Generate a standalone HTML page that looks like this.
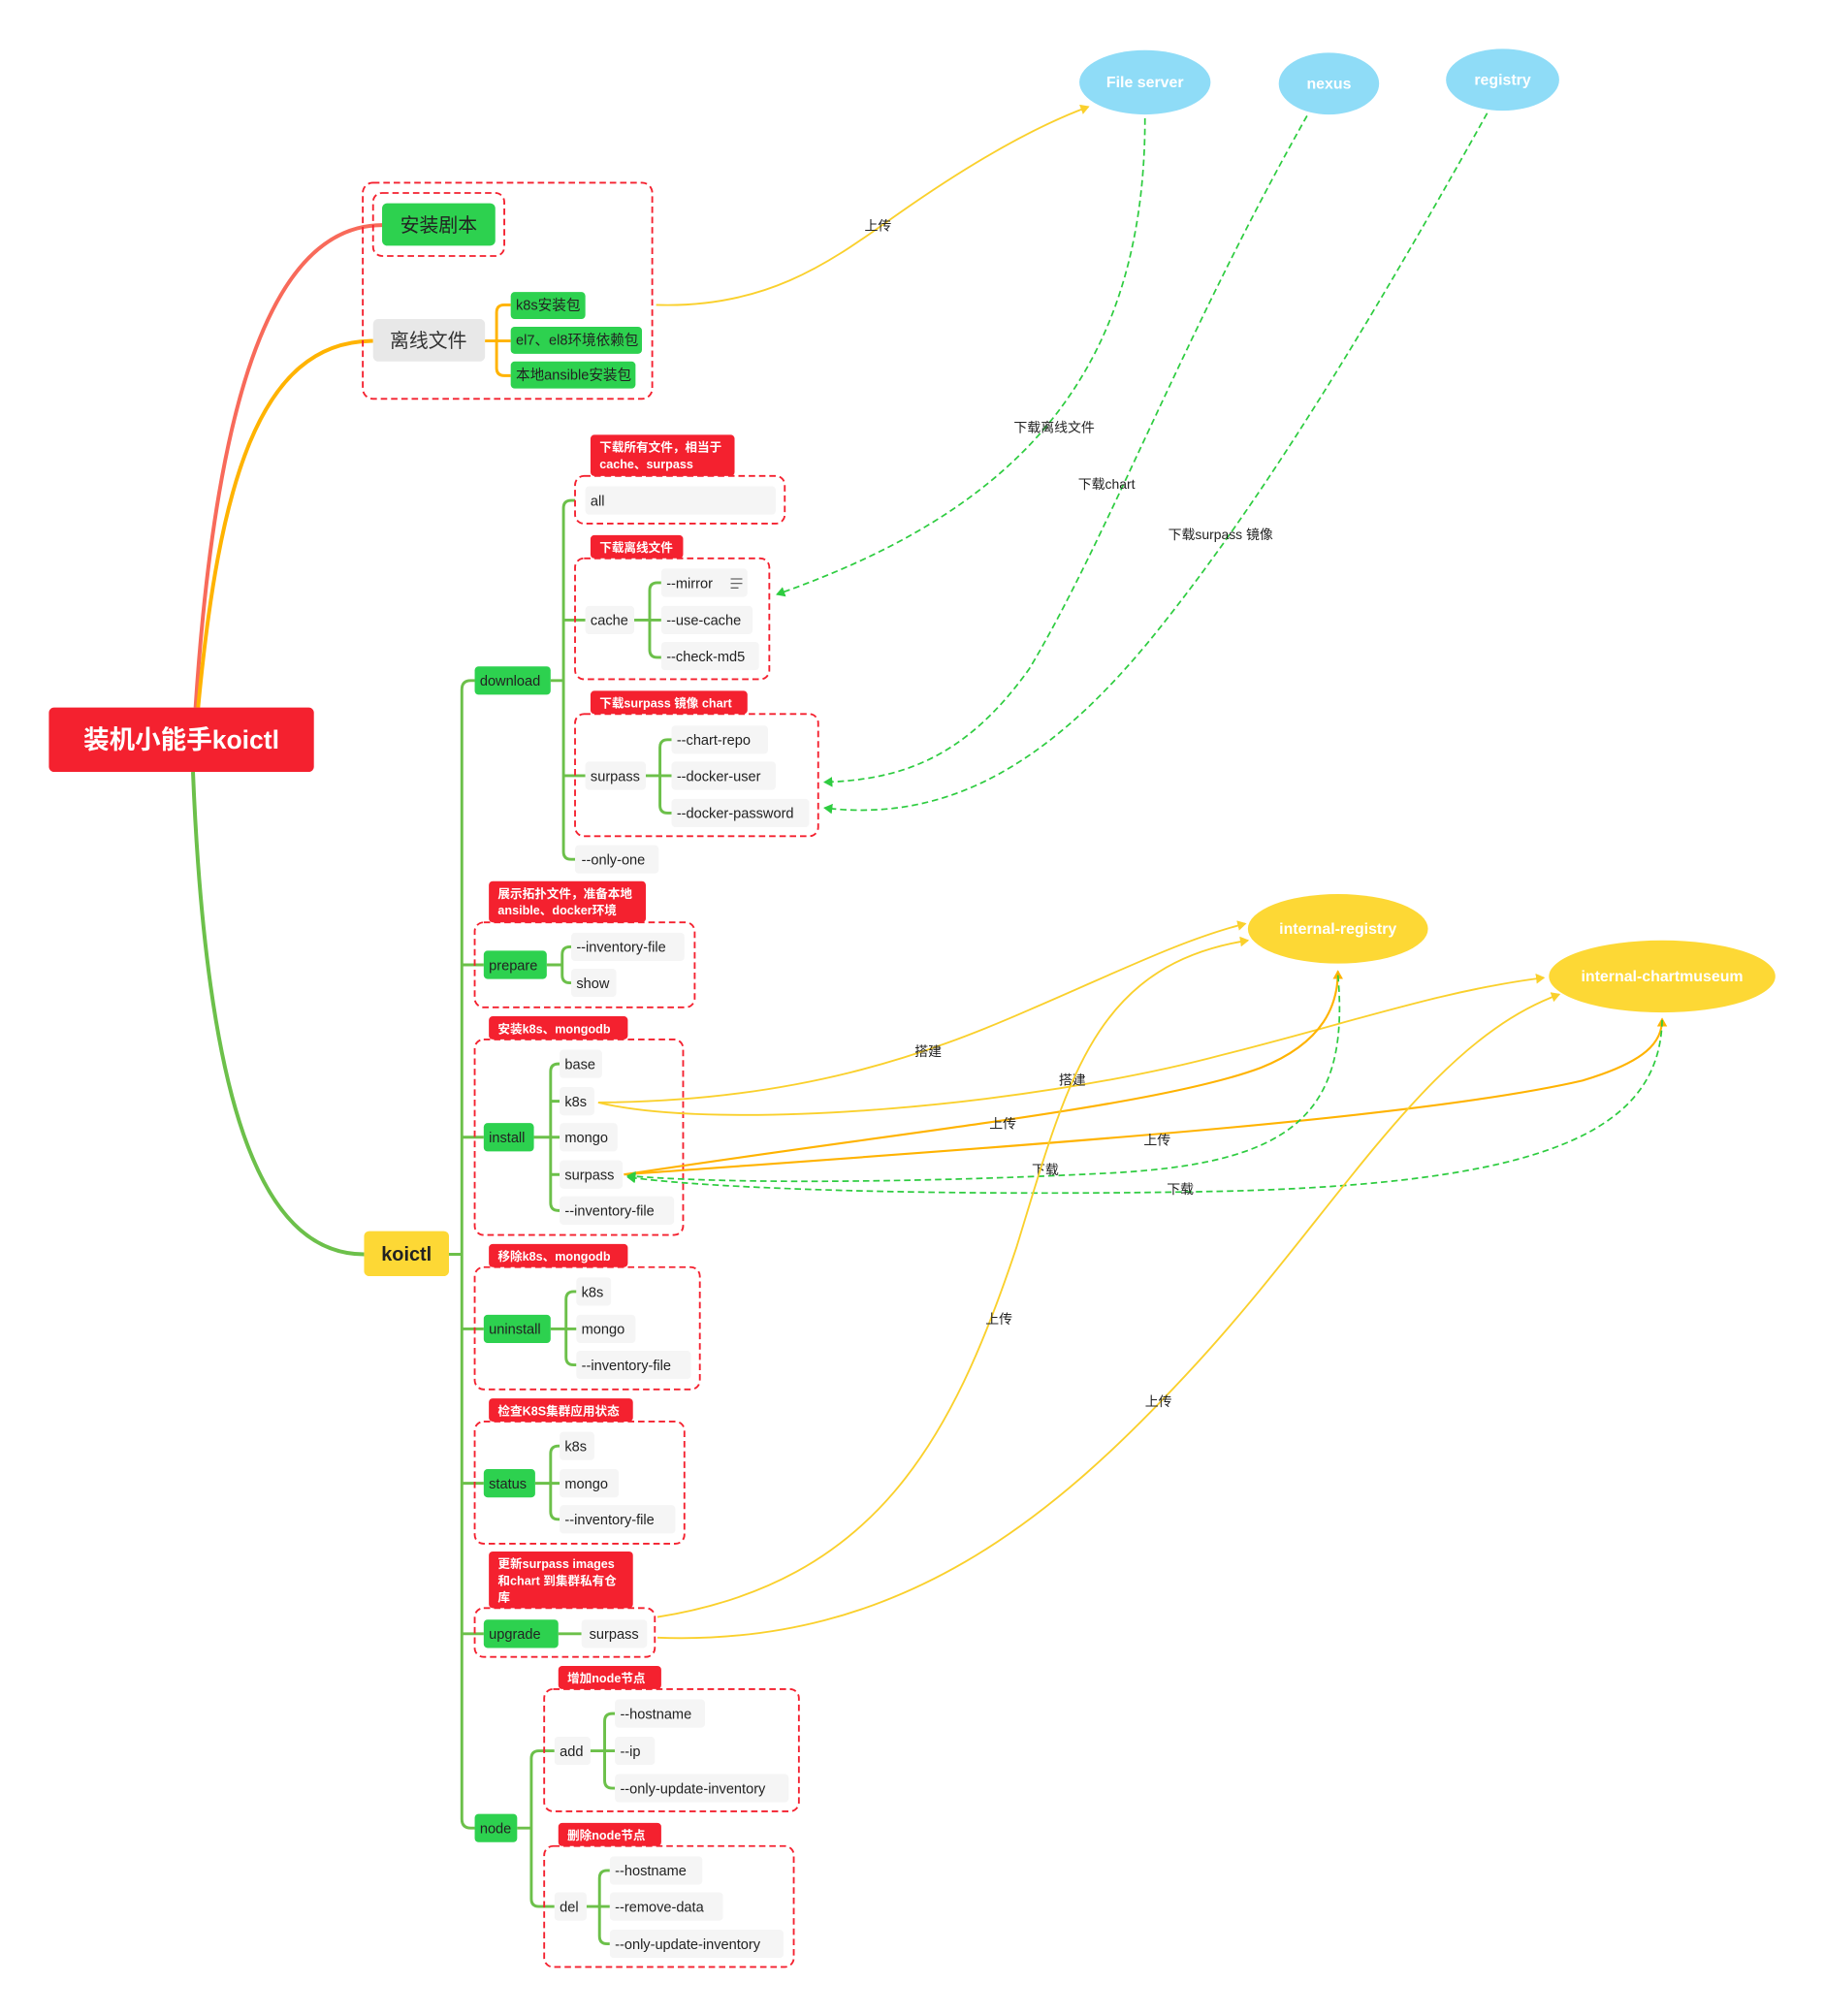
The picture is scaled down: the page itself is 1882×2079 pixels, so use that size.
<!DOCTYPE html>
<html><head><meta charset="utf-8"><style>
html,body{margin:0;padding:0;background:#fff;}
svg{display:block;}
text{font-family:"Liberation Sans","Noto Sans CJK SC",sans-serif;}
.n{fill:#f5f5f5;}
.t{font-size:11px;fill:#222;}
.g{fill:#2dd14f;}
.gl{fill:none;stroke:#6cc04a;stroke-width:2.2;}
.db{fill:none;stroke:#f4212f;stroke-width:1.4;stroke-dasharray:5,3;}
.lb{fill:#f4212f;}
.lt{font-size:9.5px;fill:#fff;font-weight:bold;}
.y{fill:none;stroke:#fad02c;stroke-width:1.4;}
.o{fill:none;stroke:#ffb300;stroke-width:1.6;}
.gd{fill:none;stroke:#2ecc40;stroke-width:1.3;stroke-dasharray:5,3;}
.cl{font-size:10.5px;fill:#222;}
</style></head><body>
<svg width="1882" height="2079" viewBox="0 0 1418.6 1567.1" xmlns="http://www.w3.org/2000/svg">
<defs>
<marker id="ay" markerWidth="8" markerHeight="8" refX="6" refY="4" orient="auto" markerUnits="userSpaceOnUse"><path d="M0,0 L7,4 L0,8 z" fill="#fad02c"/></marker>
<marker id="ao" markerWidth="8" markerHeight="8" refX="6" refY="4" orient="auto" markerUnits="userSpaceOnUse"><path d="M0,0 L7,4 L0,8 z" fill="#ffb300"/></marker>
<marker id="ag" markerWidth="8" markerHeight="8" refX="6" refY="4" orient="auto" markerUnits="userSpaceOnUse"><path d="M0,0 L7,4 L0,8 z" fill="#2ecc40"/></marker>
</defs>

<path d="M152,550 C165,350 200,175 297,175" fill="none" stroke="#f86a5a" stroke-width="3"/>
<path d="M154,550 C170,380 200,265 290,265" fill="none" stroke="#ffb300" stroke-width="3"/>
<path d="M150,600 C160,850 200,975 283,975" fill="none" stroke="#6cc04a" stroke-width="3"/>

<rect x="38" y="550" width="206" height="50" rx="4" fill="#f4212f"/>
<text x="141" y="582" text-anchor="middle" font-size="20" font-weight="bold" fill="#fff">装机小能手koictl</text>

<rect x="282" y="142" width="225" height="168" rx="8" class="db"/>
<rect x="290" y="150" width="102" height="49" rx="7" class="db"/>
<rect x="297" y="158" width="88" height="33" rx="4" class="g"/>
<text x="341" y="180" text-anchor="middle" font-size="15" fill="#222">安装剧本</text>
<rect x="290" y="248" width="87" height="33" rx="4" fill="#e8e8e8"/>
<text x="333" y="270" text-anchor="middle" font-size="15" fill="#333">离线文件</text>
<path d="M377,265 H386 M397,237 H392 Q386,237 386,243 V286 Q386,292 392,292 H397 M386,265 H397" fill="none" stroke="#ffb300" stroke-width="2.2"/>
<rect x="397" y="227" width="58" height="21" rx="3" class="g"/><text x="401" y="241" class="t">k8s安装包</text>
<rect x="397" y="254" width="102" height="21" rx="3" class="g"/><text x="401" y="268" class="t">el7、el8环境依赖包</text>
<rect x="397" y="281" width="97" height="21" rx="3" class="g"/><text x="401" y="295" class="t">本地ansible安装包</text>

<ellipse cx="890" cy="64" rx="51" ry="25" fill="#8fdcf7"/><text x="890" y="68" text-anchor="middle" font-size="12" font-weight="bold" fill="#fff">File server</text>
<ellipse cx="1033" cy="65" rx="39" ry="24" fill="#8fdcf7"/><text x="1033" y="69" text-anchor="middle" font-size="12" font-weight="bold" fill="#fff">nexus</text>
<ellipse cx="1168" cy="62" rx="44" ry="24" fill="#8fdcf7"/><text x="1168" y="66" text-anchor="middle" font-size="12" font-weight="bold" fill="#fff">registry</text>
<ellipse cx="1040" cy="722" rx="70" ry="27" fill="#fdd835"/><text x="1040" y="726" text-anchor="middle" font-size="12" font-weight="bold" fill="#fff">internal-registry</text>
<ellipse cx="1292" cy="759" rx="88" ry="28" fill="#fdd835"/><text x="1292" y="763" text-anchor="middle" font-size="12" font-weight="bold" fill="#fff">internal-chartmuseum</text>

<rect x="283" y="957" width="66" height="35" rx="4" fill="#fdd835"/>
<text x="316" y="980" text-anchor="middle" font-size="15" font-weight="bold" fill="#222">koictl</text>
<path class="gl" d="M349,975 H359 M369,529 H366 Q359,529 359,536 V1414 Q359,1421 366,1421 H369 M359,750 H376 M359,884 H376 M359,1033 H376 M359,1153 H376 M359,1270 H376"/>

<rect x="369" y="518" width="59" height="22" rx="3" class="g"/><text x="373" y="533" class="t">download</text>
<path class="gl" d="M428,529 H438 M447,389 H444 Q438,389 438,395 V662 Q438,668 444,668 H447 M438,482 H455 M438,603 H455"/>
<rect x="459" y="338" width="112" height="32" rx="3" class="lb"/><text x="466" y="351" class="lt">下载所有文件，相当于</text><text x="466" y="364" class="lt">cache、surpass</text>
<rect x="447" y="370" width="163" height="37" rx="7" class="db"/>
<rect x="455" y="378" width="148" height="22" rx="3" class="n"/><text x="459" y="393" class="t">all</text>

<rect x="459" y="416" width="72" height="18" rx="3" class="lb"/><text x="466" y="429" class="lt">下载离线文件</text>
<rect x="447" y="434" width="151" height="94" rx="7" class="db"/>
<rect x="455" y="471" width="38" height="22" rx="3" class="n"/><text x="459" y="486" class="t">cache</text>
<path class="gl" d="M493,482 H514 M514,453 H511 Q505,453 505,459 V505 Q505,511 511,511 H514"/>
<rect x="514" y="442" width="67" height="22" rx="3" class="n"/><text x="518" y="457" class="t">--mirror</text>
<path d="M568,450 h9 M568,453.5 h9 M568,457 h6" stroke="#666" stroke-width="1"/>
<rect x="514" y="471" width="71" height="22" rx="3" class="n"/><text x="518" y="486" class="t">--use-cache</text>
<rect x="514" y="499" width="76" height="22" rx="3" class="n"/><text x="518" y="514" class="t">--check-md5</text>

<rect x="459" y="537" width="122" height="18" rx="3" class="lb"/><text x="466" y="550" class="lt">下载surpass 镜像 chart</text>
<rect x="447" y="555" width="189" height="95" rx="7" class="db"/>
<rect x="455" y="592" width="47" height="22" rx="3" class="n"/><text x="459" y="607" class="t">surpass</text>
<path class="gl" d="M502,603 H522 M522,575 H519 Q513,575 513,581 V626 Q513,632 519,632 H522"/>
<rect x="522" y="564" width="75" height="22" rx="3" class="n"/><text x="526" y="579" class="t">--chart-repo</text>
<rect x="522" y="592" width="81" height="22" rx="3" class="n"/><text x="526" y="607" class="t">--docker-user</text>
<rect x="522" y="621" width="107" height="22" rx="3" class="n"/><text x="526" y="636" class="t">--docker-password</text>
<rect x="447" y="657" width="65" height="22" rx="3" class="n"/><text x="452" y="672" class="t">--only-one</text>

<rect x="380" y="685" width="122" height="32" rx="3" class="lb"/><text x="387" y="698" class="lt">展示拓扑文件，准备本地</text><text x="387" y="711" class="lt">ansible、docker环境</text>
<rect x="369" y="717" width="171" height="66" rx="7" class="db"/>
<rect x="376" y="739" width="49" height="22" rx="3" class="g"/><text x="380" y="754" class="t">prepare</text>
<path class="gl" d="M425,750 H437 M444,736 H443 Q437,736 437,742 V758 Q437,764 443,764 H444"/>
<rect x="444" y="725" width="88" height="22" rx="3" class="n"/><text x="448" y="740" class="t">--inventory-file</text>
<rect x="444" y="753" width="35" height="22" rx="3" class="n"/><text x="448" y="768" class="t">show</text>

<rect x="380" y="790" width="108" height="18" rx="3" class="lb"/><text x="387" y="803" class="lt">安装k8s、mongodb</text>
<rect x="369" y="808" width="162" height="152" rx="7" class="db"/>
<rect x="376" y="873" width="39" height="22" rx="3" class="g"/><text x="380" y="888" class="t">install</text>
<path class="gl" d="M415,884 H435 M435,827 H434 Q428,827 428,833 V935 Q428,941 434,941 H435 M428,856 H435 M428,913 H435"/>
<rect x="435" y="816" width="33" height="22" rx="3" class="n"/><text x="439" y="831" class="t">base</text>
<rect x="435" y="845" width="27" height="22" rx="3" class="n"/><text x="439" y="860" class="t">k8s</text>
<rect x="435" y="873" width="45" height="22" rx="3" class="n"/><text x="439" y="888" class="t">mongo</text>
<rect x="435" y="902" width="49" height="22" rx="3" class="n"/><text x="439" y="917" class="t">surpass</text>
<rect x="435" y="930" width="89" height="22" rx="3" class="n"/><text x="439" y="945" class="t">--inventory-file</text>

<rect x="380" y="967" width="108" height="18" rx="3" class="lb"/><text x="387" y="980" class="lt">移除k8s、mongodb</text>
<rect x="369" y="985" width="175" height="95" rx="7" class="db"/>
<rect x="376" y="1022" width="52" height="22" rx="3" class="g"/><text x="380" y="1037" class="t">uninstall</text>
<path class="gl" d="M428,1033 H448 M448,1004 H446 Q440,1004 440,1010 V1055 Q440,1061 446,1061 H448"/>
<rect x="448" y="993" width="27" height="22" rx="3" class="n"/><text x="452" y="1008" class="t">k8s</text>
<rect x="448" y="1022" width="46" height="22" rx="3" class="n"/><text x="452" y="1037" class="t">mongo</text>
<rect x="448" y="1050" width="89" height="22" rx="3" class="n"/><text x="452" y="1065" class="t">--inventory-file</text>

<rect x="380" y="1087" width="112" height="18" rx="3" class="lb"/><text x="387" y="1100" class="lt">检查K8S集群应用状态</text>
<rect x="369" y="1105" width="163" height="95" rx="7" class="db"/>
<rect x="376" y="1142" width="40" height="22" rx="3" class="g"/><text x="380" y="1157" class="t">status</text>
<path class="gl" d="M416,1153 H435 M435,1124 H434 Q428,1124 428,1130 V1175 Q428,1181 434,1181 H435"/>
<rect x="435" y="1113" width="27" height="22" rx="3" class="n"/><text x="439" y="1128" class="t">k8s</text>
<rect x="435" y="1142" width="46" height="22" rx="3" class="n"/><text x="439" y="1157" class="t">mongo</text>
<rect x="435" y="1170" width="90" height="22" rx="3" class="n"/><text x="439" y="1185" class="t">--inventory-file</text>

<rect x="380" y="1206" width="112" height="44" rx="3" class="lb"/><text x="387" y="1219" class="lt">更新surpass images</text><text x="387" y="1232" class="lt">和chart 到集群私有仓</text><text x="387" y="1245" class="lt">库</text>
<rect x="369" y="1250" width="140" height="38" rx="7" class="db"/>
<rect x="376" y="1259" width="58" height="22" rx="3" class="g"/><text x="380" y="1274" class="t">upgrade</text>
<path class="gl" d="M434,1270 H452"/>
<rect x="452" y="1259" width="51" height="22" rx="3" class="n"/><text x="458" y="1274" class="t">surpass</text>

<rect x="369" y="1410" width="33" height="22" rx="3" class="g"/><text x="373" y="1425" class="t">node</text>
<path class="gl" d="M402,1421 H413 M431,1361 H419 Q413,1361 413,1367 V1476 Q413,1482 419,1482 H431"/>
<rect x="434" y="1295" width="80" height="18" rx="3" class="lb"/><text x="441" y="1308" class="lt">增加node节点</text>
<rect x="423" y="1313" width="198" height="95" rx="7" class="db"/>
<rect x="431" y="1350" width="28" height="22" rx="3" class="n"/><text x="435" y="1365" class="t">add</text>
<path class="gl" d="M459,1361 H478 M478,1332 H476 Q470,1332 470,1338 V1384 Q470,1390 476,1390 H478"/>
<rect x="478" y="1321" width="70" height="22" rx="3" class="n"/><text x="482" y="1336" class="t">--hostname</text>
<rect x="478" y="1350" width="31" height="22" rx="3" class="n"/><text x="482" y="1365" class="t">--ip</text>
<rect x="478" y="1379" width="135" height="22" rx="3" class="n"/><text x="482" y="1394" class="t">--only-update-inventory</text>

<rect x="434" y="1417" width="80" height="18" rx="3" class="lb"/><text x="441" y="1430" class="lt">删除node节点</text>
<rect x="423" y="1435" width="194" height="94" rx="7" class="db"/>
<rect x="431" y="1471" width="25" height="22" rx="3" class="n"/><text x="435" y="1486" class="t">del</text>
<path class="gl" d="M456,1482 H474 M474,1454 H472 Q466,1454 466,1460 V1505 Q466,1511 472,1511 H474"/>
<rect x="474" y="1443" width="72" height="22" rx="3" class="n"/><text x="478" y="1458" class="t">--hostname</text>
<rect x="474" y="1471" width="88" height="22" rx="3" class="n"/><text x="478" y="1486" class="t">--remove-data</text>
<rect x="474" y="1500" width="135" height="22" rx="3" class="n"/><text x="478" y="1515" class="t">--only-update-inventory</text>

<path class="y" d="M510,237 C600,240 650,200 700,165 C750,130 800,100 846,83" marker-end="url(#ay)"/>
<text x="672" y="179" class="cl">上传</text>
<path class="gd" d="M890,92 C890,300 780,400 604,462" marker-end="url(#ag)"/>
<text x="788" y="336" class="cl">下载离线文件</text>
<path class="gd" d="M1016,90 C920,260 860,420 800,520 C750,590 700,606 641,608" marker-end="url(#ag)"/>
<text x="838" y="380" class="cl">下载chart</text>
<path class="gd" d="M1156,88 C1060,260 980,390 900,490 C820,590 740,640 641,628" marker-end="url(#ag)"/>
<text x="908" y="419" class="cl">下载surpass 镜像</text>

<path class="y" d="M465,857 C620,856 720,820 800,785 C870,755 920,730 968,718" marker-end="url(#ay)"/>
<text x="711" y="821" class="cl">搭建</text>
<path class="y" d="M465,857 C560,880 800,860 950,820 C1050,795 1120,770 1200,760" marker-end="url(#ay)"/>
<text x="823" y="843" class="cl">搭建</text>
<path class="o" d="M485,913 C700,880 900,860 980,830 C1030,810 1040,780 1040,755" marker-end="url(#ao)"/>
<text x="769" y="877" class="cl">上传</text>
<path class="o" d="M485,913 C800,890 1100,870 1230,840 C1280,825 1292,810 1292,792" marker-end="url(#ao)"/>
<text x="889" y="890" class="cl">上传</text>
<path class="gd" d="M1040,758 C1050,870 1000,905 860,912 C700,920 560,920 488,914" marker-end="url(#ag)"/>
<text x="802" y="913" class="cl">下载</text>
<path class="gd" d="M1292,793 C1290,880 1200,920 950,926 C750,930 560,925 488,915" marker-end="url(#ag)"/>
<text x="907" y="928" class="cl">下载</text>
<path class="y" d="M511,1257 C680,1230 740,1120 790,970 C830,840 850,750 970,731" marker-end="url(#ay)"/>
<text x="766" y="1029" class="cl">上传</text>
<path class="y" d="M511,1273 C700,1280 820,1180 930,1060 C1040,940 1110,810 1212,773" marker-end="url(#ay)"/>
<text x="890" y="1093" class="cl">上传</text>
</svg>
</body></html>
